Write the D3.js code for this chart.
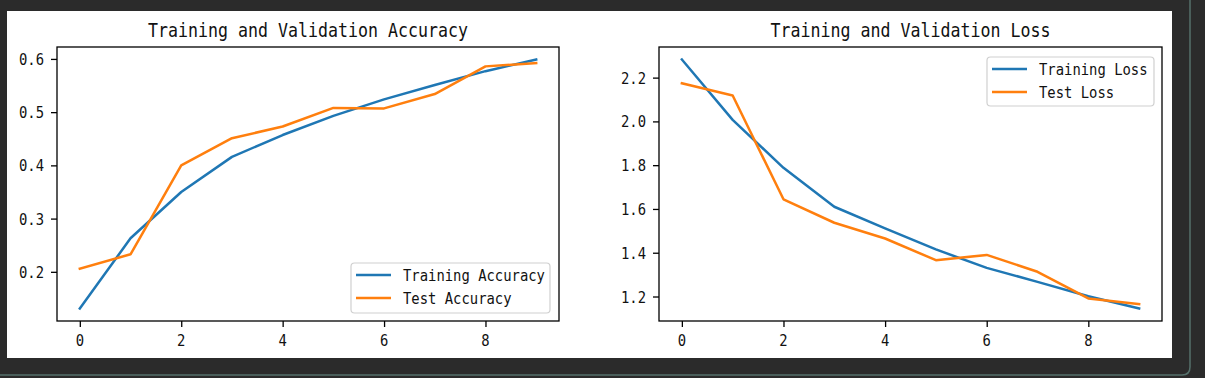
<!DOCTYPE html>
<html><head><meta charset="utf-8">
<script src="https://cdn.jsdelivr.net/npm/d3@7"></script>
<style>html,body{margin:0;padding:0;background:#2b2b2b;overflow:hidden}</style>
</head><body>
<script>
const epochs = [0,1,2,3,4,5,6,7,8,9];
const trainAcc = [0.131, 0.263, 0.350, 0.416, 0.457, 0.493, 0.524, 0.551, 0.577, 0.599];
const testAcc  = [0.206, 0.233, 0.400, 0.451, 0.473, 0.508, 0.507, 0.534, 0.586, 0.592];
const trainLoss = [2.283, 2.007, 1.788, 1.610, 1.511, 1.415, 1.331, 1.267, 1.201, 1.145];
const testLoss  = [2.174, 2.118, 1.644, 1.537, 1.465, 1.366, 1.390, 1.313, 1.191, 1.165];
const xTicks = [0,2,4,6,8];
const accTicks = [0.2,0.3,0.4,0.5,0.6];
const lossTicks = [1.2,1.4,1.6,1.8,2.0,2.2];
const accTitle = "Training and Validation Accuracy";
const lossTitle = "Training and Validation Loss";
const accLegend = ["Training Accuracy","Test Accuracy"];
const lossLegend = ["Training Loss","Test Loss"];
const colors = ["#1f77b4","#ff7f0e"];

const W = 1205, H = 378;
const FONT = "'DejaVu Sans Mono', monospace";
const svg = d3.select("body").append("svg").attr("width", W).attr("height", H);
svg.append("rect").attr("width", W).attr("height", H).attr("fill", "#2b2b2b");
// outer frame of host window
svg.append("path")
  .attr("d", "M-10,-10 L1183,-10 Q1190,-10 1190,-3 L1190,367 Q1190,375 1182,375 L-10,375")
  .attr("fill", "none").attr("stroke", "#55706b").attr("stroke-width", 1.5);
// figure
svg.append("rect").attr("x", 7).attr("y", 11).attr("width", 1165).attr("height", 347).attr("fill", "#ffffff");

function txt(g, s, x, y, size, anchor) {
  return g.append("text").attr("x", x).attr("y", y)
    .attr("font-family", FONT).attr("font-size", size)
    .attr("fill", "#111").attr("text-anchor", anchor)
    .attr("textLength", s.length * size * 0.5).attr("lengthAdjust", "spacingAndGlyphs")
    .text(s);
}

function panel(cfg) {
  const {x0, x1, y0, y1, series, yTicks, fmt, title, legend, legendPos} = cfg;
  const g = svg.append("g");
  const xs = d3.scaleLinear().domain([-0.45, 9.45]).range([x0, x1]);
  const all = series.flat();
  const mn = d3.min(all), mx = d3.max(all), pad = (mx - mn) * 0.05;
  const ys = d3.scaleLinear().domain([mn - pad, mx + pad]).range([y1, y0]);

  const line = d3.line().x((d, i) => xs(epochs[i])).y(d => ys(d));
  series.forEach((s, k) => {
    g.append("path").datum(s).attr("d", line).attr("fill", "none")
      .attr("stroke", colors[k]).attr("stroke-width", 2.5)
      .attr("stroke-linejoin", "round").attr("stroke-linecap", "square");
  });

  // x axis
  const xa = g.append("g").attr("transform", `translate(0,${y1})`)
    .call(d3.axisBottom(xs).tickValues(xTicks).tickSize(6).tickPadding(6).tickFormat(d3.format("d")));
  xa.select(".domain").remove();
  xa.selectAll("line").attr("stroke", "#000").attr("stroke-width", 1.3);
  xa.selectAll("text").remove();
  xTicks.forEach(t => txt(g, String(t), xs(t), 346, 16.7, "middle"));

  const ya = g.append("g").attr("transform", `translate(${x0},0)`)
    .call(d3.axisLeft(ys).tickValues(yTicks).tickSize(6).tickPadding(6));
  ya.select(".domain").remove();
  ya.selectAll("line").attr("stroke", "#000").attr("stroke-width", 1.3);
  ya.selectAll("text").remove();
  yTicks.forEach(t => txt(g, fmt(t), x0 - 13, ys(t) + 6, 16.7, "end"));

  g.append("rect").attr("x", x0).attr("y", y0).attr("width", x1 - x0).attr("height", y1 - y0)
    .attr("fill", "none").attr("stroke", "#000").attr("stroke-width", 1.3);

  txt(g, title, (x0 + x1) / 2, 37, 20, "middle");

  // legend
  const [lx, ly, lw, lh] = legendPos;
  g.append("rect").attr("x", lx).attr("y", ly).attr("width", lw).attr("height", lh)
    .attr("rx", 3.5).attr("fill", "rgba(255,255,255,0.8)").attr("stroke", "#d0d0d0").attr("stroke-width", 1.2);
  legend.forEach((s, k) => {
    const yy = ly + 12 + k * 23;
    g.append("line").attr("x1", lx + 5).attr("x2", lx + 40).attr("y1", yy).attr("y2", yy)
      .attr("stroke", colors[k]).attr("stroke-width", 2.5);
    txt(g, s, lx + 52, yy + 6, 16.7, "start");
  });
}

panel({x0: 57, x1: 559, y0: 47, y1: 321, series: [trainAcc, testAcc], yTicks: accTicks,
  fmt: d3.format(".1f"), title: accTitle, legend: accLegend, legendPos: [351, 263, 199, 50]});
panel({x0: 659, x1: 1162, y0: 47, y1: 321, series: [trainLoss, testLoss], yTicks: lossTicks,
  fmt: d3.format(".1f"), title: lossTitle, legend: lossLegend, legendPos: [987, 57, 167, 49]});
</script>
</body></html>
